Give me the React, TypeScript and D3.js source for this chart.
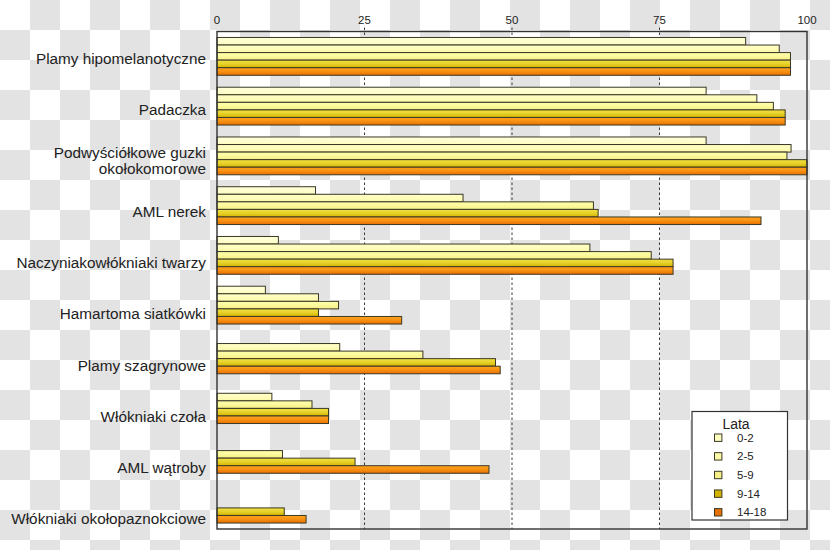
import React, { useEffect, useRef } from 'react';
import * as d3 from 'd3';

const categories = [
    'Plamy hipomelanotyczne',
    'Padaczka',
    'Podwyściółkowe guzki okołokomorowe',
    'AML nerek',
    'Naczyniakowłókniaki twarzy',
    'Hamartoma siatkówki',
    'Plamy szagrynowe',
    'Włókniaki czoła',
    'AML wątroby',
    'Włókniaki okołopaznokciowe',
];

// label lines (one category wraps onto two lines)
const categoryLines = [
    ['Plamy hipomelanotyczne'],
    ['Padaczka'],
    ['Podwyściółkowe guzki', 'okołokomorowe'],
    ['AML nerek'],
    ['Naczyniakowłókniaki twarzy'],
    ['Hamartoma siatkówki'],
    ['Plamy szagrynowe'],
    ['Włókniaki czoła'],
    ['AML wątroby'],
    ['Włókniaki okołopaznokciowe'],
];

const ageGroups = ['0-2', '2-5', '5-9', '9-14', '14-18'];

const age0to2 = [89.6, 82.9, 82.9, 16.7, 10.4, 8.2, 0, 0, 0, 0];
const age2to5 = [95.3, 91.5, 97.3, 41.7, 63.2, 17.2, 20.8, 9.3, 0, 0];
const age5to9 = [97.2, 94.3, 96.6, 63.8, 73.6, 20.6, 34.9, 16.1, 11.1, 0];
const age9to14 = [97.2, 96.3, 100, 64.6, 77.3, 17.2, 47.2, 18.9, 23.4, 11.4];
const age14to18 = [97.2, 96.3, 100, 92.2, 77.3, 31.3, 48.0, 18.9, 46.1, 15.1];

const xTicks = [0, 25, 50, 75, 100];

const seriesValues = [age0to2, age2to5, age5to9, age9to14, age14to18];

// [top, bottom] gradient stops per age group
const seriesColors: [string, string][] = [
    ['#ffffd8', '#fdfcc0'],
    ['#ffffc4', '#fbf8a8'],
    ['#ffffa8', '#f6ee86'],
    ['#f2e040', '#d2b400'],
    ['#ffa21c', '#e87000'],
];

const FONT = '"Liberation Sans", Arial, sans-serif';

const App: React.FC = () => {
    const svgRef = useRef<SVGSVGElement>(null);

    useEffect(() => {
        if (!svgRef.current) return;
        const svg = d3.select(svgRef.current);
        svg.selectAll('*').remove();

        const width = 830;
        const height = 550;
        const left = 217;
        const right = 807;
        const top = 31.5;
        const bottom = 529;

        const defs = svg.append('defs');

        // checkerboard background (transparent PNG look)
        const pat = defs.append('pattern')
            .attr('id', 'checker')
            .attr('width', 60)
            .attr('height', 60)
            .attr('patternUnits', 'userSpaceOnUse');
        pat.append('rect').attr('width', 60).attr('height', 60).attr('fill', '#ffffff');
        pat.append('rect').attr('x', 30).attr('y', 0).attr('width', 30).attr('height', 30).attr('fill', '#e3e3e3');
        pat.append('rect').attr('x', 0).attr('y', 30).attr('width', 30).attr('height', 30).attr('fill', '#e3e3e3');

        svg.append('rect')
            .attr('width', width)
            .attr('height', height)
            .attr('fill', 'url(#checker)');

        seriesColors.forEach((c, i) => {
            const g = defs.append('linearGradient')
                .attr('id', `grad-${i}`)
                .attr('x1', 0).attr('y1', 0)
                .attr('x2', 0).attr('y2', 1);
            g.append('stop').attr('offset', '0%').attr('stop-color', c[0]);
            g.append('stop').attr('offset', '45%').attr('stop-color', d3.interpolateRgb(c[0], c[1])(0.3));
            g.append('stop').attr('offset', '100%').attr('stop-color', c[1]);
        });

        const x = d3.scaleLinear().domain([0, 100]).range([left, right]);
        const y = d3.scaleBand<string>()
            .domain(categories)
            .range([top, bottom])
            .paddingInner(0.24)
            .paddingOuter(0.12);
        const ySub = d3.scaleBand<string>()
            .domain(ageGroups)
            .range([0, y.bandwidth()]);
        // labels sit on a slightly wider spacing than the bars
        const yLabel = d3.scalePoint<string>()
            .domain(categories)
            .range([57.5, 517.5]);

        // dotted grid lines
        svg.append('g')
            .selectAll('line')
            .data(xTicks.filter(t => t > 0 && t < 100))
            .join('line')
            .attr('x1', d => x(d))
            .attr('x2', d => x(d))
            .attr('y1', top - 4)
            .attr('y2', bottom)
            .attr('stroke', '#3a3a3a')
            .attr('stroke-width', 1)
            .attr('stroke-dasharray', '2.5,2.5');

        // tick labels
        svg.append('g')
            .selectAll('text')
            .data(xTicks)
            .join('text')
            .attr('x', d => x(d))
            .attr('y', 24)
            .attr('text-anchor', 'middle')
            .attr('font-family', FONT)
            .attr('font-size', '11.5px')
            .attr('fill', '#222')
            .text(d => d);

        // bars
        const groups = svg.append('g')
            .selectAll('g')
            .data(categories)
            .join('g')
            .attr('transform', d => `translate(0,${y(d)})`);

        groups.selectAll('rect')
            .data((_, ci) => ageGroups.map((a, si) => ({ age: a, si, value: seriesValues[si][ci] })).filter(d => d.value > 0))
            .join('rect')
            .attr('x', x(0))
            .attr('y', d => ySub(d.age)!)
            .attr('width', d => x(d.value) - x(0))
            .attr('height', ySub.bandwidth())
            .attr('fill', d => `url(#grad-${d.si})`)
            .attr('stroke', '#3a3826')
            .attr('stroke-width', 1);

        // category labels, one text per line
        const labelData = categories.flatMap((c, i) => {
            const lines = categoryLines[i];
            return lines.map((line, li) => ({
                line,
                cy: yLabel(c)! + 1 + (li - (lines.length - 1) / 2) * 16,
            }));
        });
        svg.append('g')
            .selectAll('text')
            .data(labelData)
            .join('text')
            .attr('x', left - 11)
            .attr('y', d => d.cy)
            .attr('dy', '0.35em')
            .attr('text-anchor', 'end')
            .attr('font-family', FONT)
            .attr('font-size', '15.3px')
            .attr('fill', '#222')
            .text(d => d.line);

        // plot frame
        svg.append('rect')
            .attr('x', left)
            .attr('y', top)
            .attr('width', right - left)
            .attr('height', bottom - top)
            .attr('fill', 'none')
            .attr('stroke', '#333')
            .attr('stroke-width', 1.4);

        // legend
        const legend = svg.append('g').attr('transform', 'translate(692,411.5)');
        legend.append('rect')
            .attr('width', 95.5)
            .attr('height', 108.5)
            .attr('fill', 'white')
            .attr('stroke', '#333')
            .attr('stroke-width', 1.2);
        legend.append('text')
            .attr('x', 44)
            .attr('y', 17)
            .attr('text-anchor', 'middle')
            .attr('font-family', FONT)
            .attr('font-size', '14px')
            .attr('fill', '#222')
            .text('Lata');

        const ly = d3.scalePoint<string>().domain(ageGroups).range([26.2, 100.8]);
        const items = legend.selectAll('g.item')
            .data(ageGroups)
            .join('g')
            .attr('class', 'item')
            .attr('transform', d => `translate(0,${ly(d)})`);
        items.append('rect')
            .attr('x', 22.5)
            .attr('y', -3.7)
            .attr('width', 7.4)
            .attr('height', 7.4)
            .attr('fill', (_, i) => seriesColors[i][1])
            .attr('stroke', '#3a3826')
            .attr('stroke-width', 1);
        items.append('text')
            .attr('x', 45)
            .attr('y', 0)
            .attr('dy', '0.35em')
            .attr('font-family', FONT)
            .attr('font-size', '11.5px')
            .attr('fill', '#222')
            .text(d => d);
    }, []);

    return (
        <div style={{ position: 'absolute', left: 0, top: 0 }}>
            <svg ref={svgRef} width={830} height={550} style={{ display: 'block' }} />
        </div>
    );
};

export default App;
